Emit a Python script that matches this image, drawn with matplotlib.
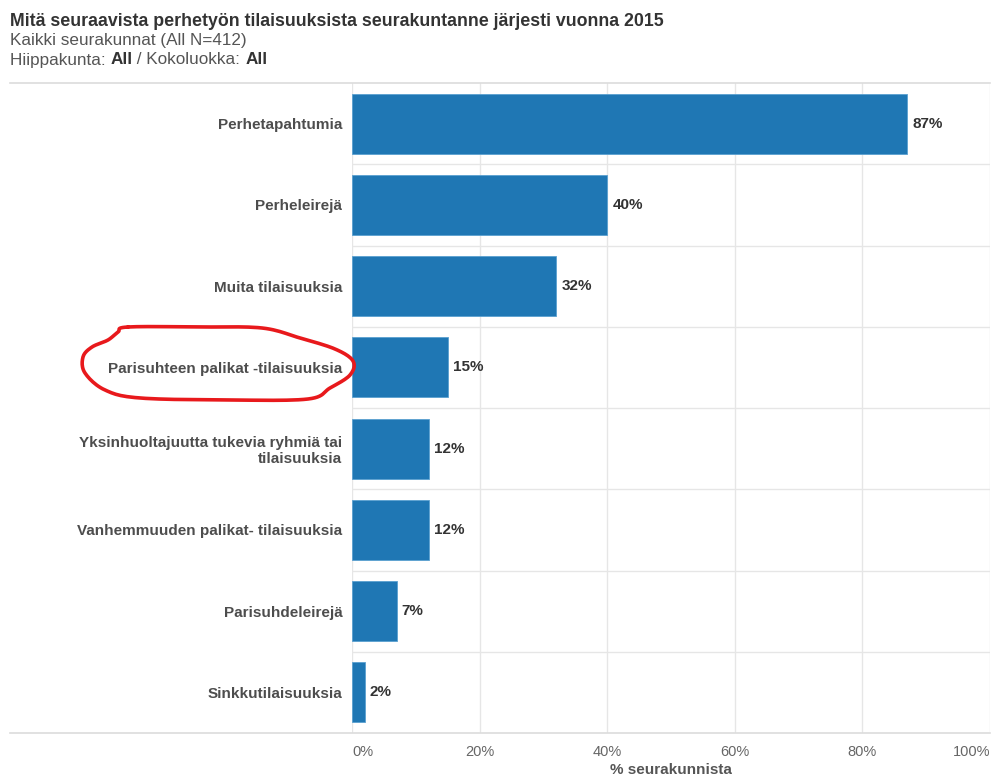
import numpy as np
import matplotlib
matplotlib.use("Agg")
import matplotlib.pyplot as plt
from matplotlib.lines import Line2D

categories = [
    "Perhetapahtumia",
    "Perheleirejä",
    "Muita tilaisuuksia",
    "Parisuhteen palikat -tilaisuuksia",
    "Yksinhuoltajuutta tukevia ryhmiä tai\ntilaisuuksia",
    "Vanhemmuuden palikat- tilaisuuksia",
    "Parisuhdeleirejä",
    "Sinkkutilaisuuksia",
]
values = [87, 40, 32, 15, 12, 12, 7, 2]
value_labels = ["87%", "40%", "32%", "15%", "12%", "12%", "7%", "2%"]
x_ticks = [0, 20, 40, 60, 80, 100]
x_tick_labels = ["0%", "20%", "40%", "60%", "80%", "100%"]

title = "Mitä seuraavista perhetyön tilaisuuksista seurakuntanne järjesti vuonna 2015"
subtitle1 = "Kaikki seurakunnat (All N=412)"
x_title = "% seurakunnista"

plt.rcParams['font.family'] = ['Liberation Sans', 'DejaVu Sans']

W, H = 995, 778
fig = plt.figure(figsize=(W / 100, H / 100), dpi=100)
fig.patch.set_facecolor("white")

def fx(px):
    return np.asarray(px) / W

def fy(py):
    return 1 - np.asarray(py) / H

ax_left, ax_right, ax_top, ax_bottom = 352, 990, 83, 733
ax = fig.add_axes([fx(ax_left), fy(ax_bottom), fx(ax_right - ax_left), (ax_bottom - ax_top) / H])

y = np.arange(len(categories))
bar_color = "#1f77b4"
ax.barh(y, values, height=0.74, color=bar_color, edgecolor="#5aa0d0", linewidth=0.6, zorder=3)

ax.set_xlim(0, 100)
ax.set_ylim(len(categories) - 0.5, -0.5)

grid_col = "#e6e6e6"
for t in x_ticks:
    ax.axvline(t, color=grid_col, lw=1, zorder=1)
for b in np.arange(0.5, len(categories) - 0.5, 1):
    ax.axhline(b, color=grid_col, lw=1, zorder=1)

for s in ax.spines.values():
    s.set_visible(False)

ax.set_yticks(y)
ax.set_yticklabels(categories, fontsize=11.0, fontweight="bold", color="#4d4d4d", ha="right")
ax.tick_params(axis="y", length=0, pad=7)

ax.set_xticks(x_ticks)
ax.set_xticklabels(x_tick_labels, fontsize=10.5, color="#666666")
ax.tick_params(axis="x", length=0, pad=9)
ax.get_xticklabels()[0].set_ha("left")
ax.get_xticklabels()[-1].set_ha("right")
fig.text(fx((ax_left + ax_right) / 2), fy(770), x_title, fontsize=11, fontweight="bold",
         color="#555555", ha="center", va="center")

for yi, v, lab in zip(y, values, value_labels):
    ax.text(v + 0.8, yi, lab, va="center", ha="left", fontsize=11, fontweight="bold", color="#333333", zorder=4)

# top and bottom separator lines spanning the whole chart width
fig.add_artist(Line2D(fx([10, 990]), fy([83, 83]), color="#dcdcdc", lw=1.2))
fig.add_artist(Line2D(fx([10, 990]), fy([733, 733]), color="#dcdcdc", lw=1.2))

# header texts
fig.text(fx(10), fy(21), title, fontsize=12.8, fontweight="bold", color="#333333", va="center", ha="left")
fig.text(fx(10), fy(41), subtitle1, fontsize=12.3, color="#555555", va="center", ha="left")
t1 = fig.text(fx(10), fy(60), "Hiippakunta: ", fontsize=12.3, color="#555555", va="center", ha="left")
fig.canvas.draw()
r = fig.canvas.get_renderer()

def place_after(prev, s, **kw):
    bb = prev.get_window_extent(renderer=r)
    return fig.text(bb.x1 / W, fy(60), s, va="center", ha="left", fontsize=12.3, **kw)

t2 = place_after(t1, "All", fontweight="bold", color="#333333")
t3 = place_after(t2, " / Kokoluokka: ", color="#555555")
t4 = place_after(t3, "All", fontweight="bold", color="#333333")

# hand-drawn red loop around the highlighted label
pts = np.array([
    (128, 327), (200, 327), (262, 328), (300, 338), (335, 349), (353, 361),
    (350, 375), (330, 388), (308, 399), (230, 400), (140, 398), (105, 390),
    (85, 373), (83, 357), (92, 347), (108, 340), (118, 332),
], dtype=float)
n = len(pts)
curve = []
for i in range(n):
    p0, p1, p2, p3 = pts[(i - 1) % n], pts[i], pts[(i + 1) % n], pts[(i + 2) % n]
    for t in np.linspace(0, 1, 12, endpoint=False):
        tt, ttt = t * t, t * t * t
        c = 0.5 * ((2 * p1) + (-p0 + p2) * t + (2 * p0 - 5 * p1 + 4 * p2 - p3) * tt
                   + (-p0 + 3 * p1 - 3 * p2 + p3) * ttt)
        curve.append(c)
curve.append(curve[0])
curve = np.array(curve)
fig.add_artist(Line2D(fx(curve[:, 0]), fy(curve[:, 1]), color="#e8191c", lw=2.6,
                      solid_capstyle="round", solid_joinstyle="round"))

fig.savefig("out.png", dpi=100, facecolor="white")
